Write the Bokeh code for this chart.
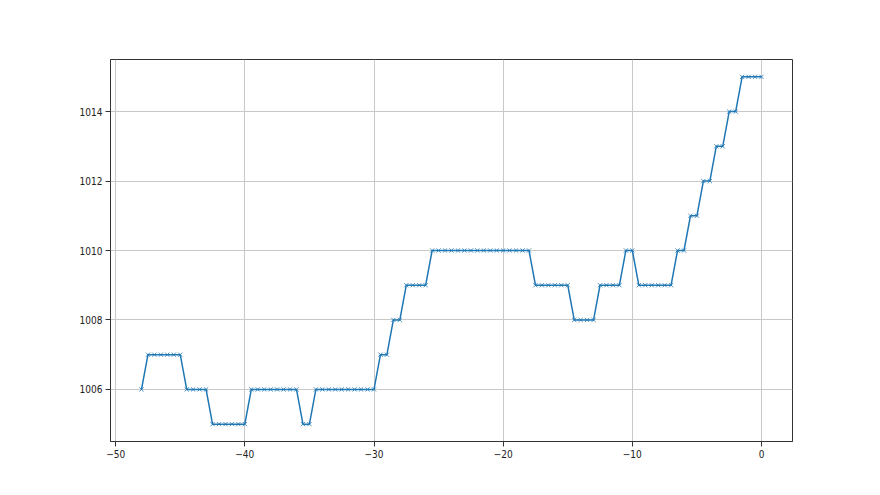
from bokeh.plotting import figure
from bokeh.embed import file_html
from bokeh.resources import INLINE
from bokeh.models import Range1d, FixedTicker

x_values = [-48.0 + 0.5 * i for i in range(97)]
pressure = ([1006] + [1007] * 6 + [1006] * 4 + [1005] * 6 + [1006] * 8 + [1005] * 2
            + [1006] * 10 + [1007] * 2 + [1008] * 2 + [1009] * 4 + [1010] * 16
            + [1009] * 6 + [1008] * 4 + [1009] * 4 + [1010] * 2 + [1009] * 6
            + [1010] * 2 + [1011] * 2 + [1012] * 2 + [1013] * 2 + [1014] * 2 + [1015] * 4)
x_ticks = [-50, -40, -30, -20, -10, 0]
y_ticks = [1006, 1008, 1010, 1012, 1014]

p = figure(width=864, height=479, output_backend="svg", toolbar_location=None,
           x_range=Range1d(-50.4, 2.4), y_range=Range1d(1004.5, 1015.5),
           min_border_left=110, min_border_right=72, min_border_top=59, min_border_bottom=38)

color = "#1f77b4"
p.line(x_values, pressure, line_color=color, line_width=1.5)
p.scatter(x_values, pressure, marker="x", size=6, line_color=color, line_width=1, line_alpha=0.8)

p.xaxis.ticker = FixedTicker(ticks=x_ticks)
p.yaxis.ticker = FixedTicker(ticks=y_ticks)
p.xaxis.major_label_overrides = {t: ("\u2212" + str(abs(t)) if t < 0 else str(t)) for t in x_ticks}
for ax in (p.xaxis, p.yaxis):
    ax.minor_tick_line_color = None
    ax.major_tick_out = 5
    ax.major_tick_in = 0
    ax.axis_line_color = "#333333"
    ax.major_tick_line_color = "#333333"
    ax.major_label_text_font = "Liberation Sans Narrow, DejaVu Sans Condensed, DejaVu Sans"
    ax.major_label_text_font_size = "10px"
    ax.major_label_text_color = "#222222"
    ax.major_label_standoff = 3
p.grid.grid_line_color = "#c8c8c8"
p.grid.grid_line_width = 1
p.outline_line_color = "#333333"
p.outline_line_alpha = 1
p.background_fill_color = "white"
p.border_fill_color = "white"

open("out.html", "w").write(file_html(p, INLINE))
